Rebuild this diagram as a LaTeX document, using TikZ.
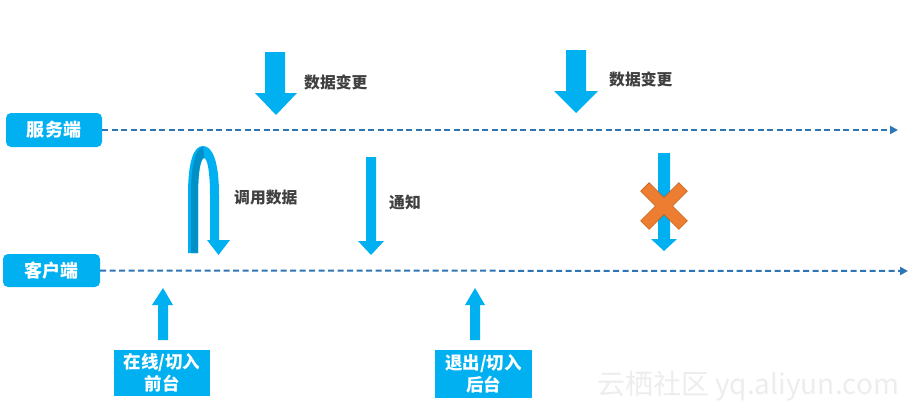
\documentclass[tikz,border=0pt]{standalone}
\usepackage{fontspec}
\setmainfont{Noto Sans CJK SC}
\usetikzlibrary{arrows.meta}
\definecolor{cy}{HTML}{00B0F0}
\definecolor{cydark}{HTML}{0090C8}
\definecolor{dashblue}{HTML}{2E75B6}
\definecolor{txt}{HTML}{404040}
\definecolor{xor}{HTML}{ED7D31}
\definecolor{xorb}{HTML}{C55A11}
\begin{document}
\begin{tikzpicture}[x=1pt,y=-1pt,
  endbox/.style={fill=cy, rounded corners=5pt, text=white, font=\fontsize{18}{20}\selectfont\bfseries, minimum width=96pt, minimum height=34pt, inner sep=0pt},
  statebox/.style={fill=cy, text=white, font=\fontsize{17.5}{22}\selectfont\bfseries, align=center, inner sep=0pt},
  lbl/.style={text=txt, font=\fontsize{15.8}{18}\selectfont\bfseries, inner sep=0pt, anchor=west},
  dline/.style={draw=dashblue, line width=2pt, dash pattern=on 6pt off 3.5pt, -{Triangle[length=8pt,width=8pt]}},
  blk/.style={fill=cy}]
\useasboundingbox (0,0) rectangle (912,415);

% watermark
\node[text=black!7, font=\fontsize{28}{30}\selectfont] (wm) at (748,386) {云栖社区 yq.aliyun.com};

% endpoints
\node[endbox] (srv) at (54,130) {服务端};
\node[endbox, minimum width=97pt, minimum height=33pt] (cli) at (51.5,270.5) {客户端};
\coordinate (srvend) at (898,130);
\coordinate (cliend) at (908,271);
\draw[dline] (srv.east) -- (srvend);
\draw[dline] (cli.east) -- (cliend);

% data change arrows
\fill[blk] (265,52) -- (285,52) -- (285,93) -- (297,93) -- (276,115) -- (255,93) -- (265,93) -- cycle;
\node[lbl] (dc1) at (304,82) {数据变更};
\fill[blk] (566,50) -- (586,50) -- (586,91) -- (598,91) -- (576,113) -- (554,91) -- (566,91) -- cycle;
\node[lbl] (dc2) at (609,79) {数据变更};

% curved call arrow
\fill[cy] (188,253) -- (188,195) .. controls (188,160) and (194,146) .. (203,146)
  .. controls (212,146) and (219,160) .. (219,195) -- (219,240) -- (210,240) -- (210,195)
  .. controls (210,170) and (207,158) .. (204,158) .. controls (201,158) and (198,170) .. (198,195)
  -- (198,253) -- cycle;
\fill[cydark] (191,253) -- (191,195) .. controls (191,163) and (196,149) .. (203,146.5)
  -- (204,158) .. controls (201,158) and (198,170) .. (198,195) -- (198,253) -- cycle;
\fill[cy] (207,240) -- (230,240) -- (218.5,255) -- cycle;
\node[lbl] (call) at (234,198) {调用数据};

% notify arrow
\fill[blk] (366,157) -- (376,157) -- (376,241) -- (384,241) -- (371,255) -- (358,241) -- (366,241) -- cycle;
\node[lbl] (notify) at (389,202) {通知};

% blocked arrow
\fill[blk] (658,153) -- (670,153) -- (670,239) -- (677,239) -- (664,251) -- (651,239) -- (658,239) -- cycle;
\begin{scope}[shift={(664,206)}, rotate=45]
\filldraw[fill=xor, draw=xorb, line width=0.6pt] (6,27) -- (6,6) -- (27,6) -- (27,-6) -- (6,-6) -- (6,-27) -- (-6,-27) -- (-6,-6) -- (-27,-6) -- (-27,6) -- (-6,6) -- (-6,27) -- cycle;
\end{scope}

% state arrows
\fill[blk] (158,340) -- (168,340) -- (168,305) -- (173,305) -- (163,288) -- (152,305) -- (158,305) -- cycle;
\node[statebox, minimum width=96pt, minimum height=46pt] (fg) at (162,373) {在线/切入\\前台};
\fill[blk] (470,340) -- (480,340) -- (480,305) -- (485,305) -- (475,288) -- (465,305) -- (470,305) -- cycle;
\node[statebox, minimum width=97pt, minimum height=48pt] (bg) at (483.5,374) {退出/切入\\后台};
\end{tikzpicture}
\end{document}
